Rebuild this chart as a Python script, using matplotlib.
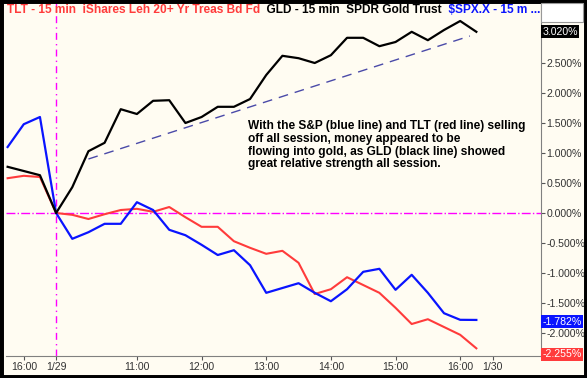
import matplotlib
matplotlib.use("Agg")
import matplotlib.pyplot as plt

# 15-min bars, x = bar index (0 = 1/29 open)
bars = list(range(-3, 27))

gld = [0.77, 0.70, 0.63, 0.00, 0.43, 1.03, 1.17, 1.73, 1.65, 1.87,
       1.88, 1.50, 1.60, 1.77, 1.77, 1.90, 2.30, 2.62, 2.58, 2.50,
       2.63, 2.92, 2.92, 2.78, 2.85, 3.02, 2.88, 3.05, 3.20, 3.02]
spx = [1.10, 1.48, 1.60, 0.00, -0.43, -0.32, -0.18, -0.18, 0.18, 0.05,
       -0.28, -0.37, -0.53, -0.70, -0.62, -0.87, -1.33, -1.25, -1.17, -1.33,
       -1.47, -1.27, -0.98, -0.93, -1.28, -1.03, -1.33, -1.67, -1.78, -1.782]
tlt = [0.58, 0.62, 0.60, 0.00, -0.03, -0.10, -0.02, 0.05, 0.07, 0.02,
       0.10, -0.07, -0.23, -0.23, -0.47, -0.58, -0.68, -0.63, -0.83, -1.35,
       -1.27, -1.07, -1.20, -1.33, -1.58, -1.85, -1.77, -1.90, -2.03, -2.255]

trend_x = [2, 25.6]
trend_y = [0.90, 2.95]

tick_pos = [-2, 0, 5, 9, 13, 17, 21, 25, 27]
tick_lbl = ['16:00', '1/29', '11:00', '12:00', '13:00', '14:00', '15:00', '16:00', '1/30']
ytick_vals = [-2.0, -1.5, -1.0, -0.5, 0.0, 0.5, 1.0, 1.5, 2.0, 2.5]

bg = '#fffcf2'
red = '#ff3b3b'
blue = '#0a14ff'
plt.rcParams['font.family'] = 'Liberation Sans'

fig = plt.figure(figsize=(5.87, 3.78), dpi=100, facecolor=bg)
fig.patches.append(plt.Rectangle((0, 0), 1, 1, transform=fig.transFigure,
                                 fill=False, edgecolor='black', linewidth=5))
# little white box in the top right corner
fig.patches.append(plt.Rectangle((541 / 587, 1 - 22 / 378), 42 / 587, 19 / 378,
                                 transform=fig.transFigure, facecolor='white',
                                 edgecolor='#999999', linewidth=0.8))
ax = fig.add_axes([6 / 587, 1 - 356 / 378, 535 / 587, 353 / 378], facecolor=bg)

ax.axhline(0, color='#ff00ff', lw=1, ls='-.', zorder=1)
ax.axvline(0, color='#ff00ff', lw=1, ls=(0, (5, 3, 1, 3)), zorder=1)

ax.plot(trend_x, trend_y, color='#4a4aa8', lw=1, ls=(0, (7, 5)))
ax.plot(bars, tlt, color=red, lw=1.5)
ax.plot(bars, spx, color=blue, lw=1.6)
ax.plot(bars, gld, color='black', lw=1.6)

ax.set_xlim(-3.1, 30)
ax.set_ylim(-2.383, 3.5)

ax.set_xticks(tick_pos)
ax.set_xticklabels(tick_lbl)
ax.set_yticks(ytick_vals)
ax.set_yticklabels(['%.3f%%' % v for v in ytick_vals])
ax.yaxis.tick_right()
ax.tick_params(axis='both', colors='#555555', labelsize=7.6, length=3, width=0.8,
               labelcolor='#333333', pad=1)
for s in ['top', 'left']:
    ax.spines[s].set_visible(False)
for s in ['right', 'bottom']:
    ax.spines[s].set_color('#808080')

# title strip
fs = 8.6
t1 = ax.text(0.002, 0.997, 'TLT - 15 min  iShares Leh 20+ Yr Treas Bd Fd', color=red,
             fontsize=fs, fontweight='bold', transform=ax.transAxes, va='top', ha='left')
fig.canvas.draw()
t2 = ax.annotate('  GLD - 15 min  SPDR Gold Trust', xycoords=t1, xy=(1, 0), va='bottom',
                 color='black', fontsize=fs, fontweight='bold')
t3 = ax.annotate('  $SPX.X - 15 m ...', xycoords=t2, xy=(1, 0), va='bottom',
                 color=blue, fontsize=fs, fontweight='bold')

# last value labels
for val, fc, txt in [(gld[-1], 'black', '%.3f%%' % gld[-1]),
                     (spx[-1] - 0.03, blue, '%.3f%%' % spx[-1]),
                     (tlt[-1] - 0.1, red, '%.3f%%' % tlt[-1])]:
    ax.annotate(txt, xy=(1.0, val), xycoords=('axes fraction', 'data'),
                xytext=(1, 0), textcoords='offset points', va='center', ha='left',
                fontsize=7.6, color='white',
                bbox=dict(boxstyle='square,pad=0.15', fc=fc, ec='none'))

ax.text(0.452, 0.668, 'With the S&P (blue line) and TLT (red line) selling\n'
        'off all session, money appeared to be\n'
        'flowing into gold, as GLD (black line) showed\n'
        'great relative strength all session.',
        transform=ax.transAxes, fontsize=8.6, fontweight='bold',
        va='top', ha='left', linespacing=1.08)

fig.savefig('out.png', dpi=100, facecolor=bg)
